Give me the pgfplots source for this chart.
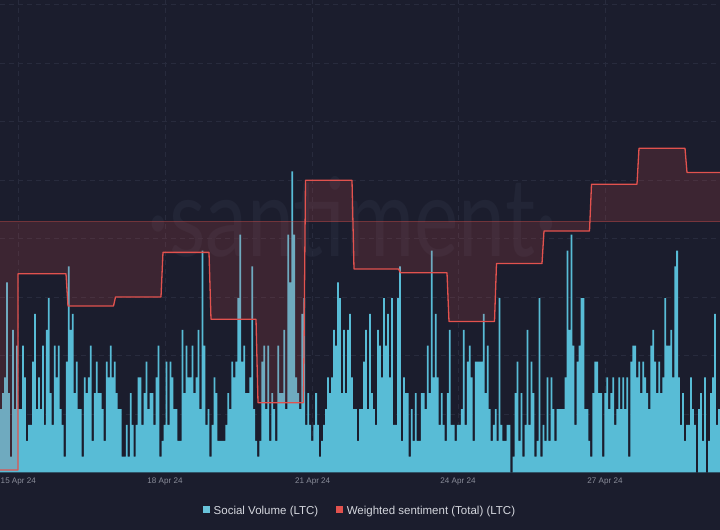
\documentclass[border=0pt]{standalone}
\usepackage{pgfplots}
\usepackage{pgfplotstable}
\pgfplotsset{compat=1.18}
\usepackage{fontspec}
\setmainfont{Liberation Sans}
\newfontfamily\wmfont{Lato}

\definecolor{bg}{HTML}{1B1D2D}
\definecolor{gridc}{HTML}{282B3D}
\definecolor{volc}{HTML}{58BCD6}
\definecolor{sentc}{HTML}{E2524E}
\definecolor{tickc}{HTML}{8A8D9A}
\definecolor{legc}{HTML}{D5D7DE}
\definecolor{wmc}{HTML}{222536}

% hourly social volume (LTC)
\pgfplotstableread[row sep=\\]{
v\\
4\\5\\6\\12\\5\\1\\9\\4\\8\\4\\4\\8\\6\\2\\3\\3\\7\\10\\4\\6\\4\\8\\3\\9\\11\\5\\3\\8\\6\\8\\4\\3\\1\\7\\13\\9\\10\\5\\7\\4\\4\\1\\6\\5\\6\\8\\
2\\5\\7\\5\\5\\4\\2\\7\\6\\8\\6\\7\\5\\4\\4\\1\\1\\3\\1\\5\\3\\1\\3\\6\\6\\3\\5\\7\\4\\5\\5\\3\\6\\8\\1\\2\\3\\7\\3\\7\\6\\4\\4\\2\\2\\
9\\5\\8\\6\\6\\8\\5\\6\\9\\4\\14\\8\\3\\4\\1\\3\\6\\5\\2\\2\\2\\2\\3\\5\\4\\7\\6\\7\\11\\15\\7\\8\\5\\5\\6\\13\\4\\2\\1\\2\\7\\8\\4\\8\\2\\
5\\4\\2\\8\\5\\5\\9\\4\\15\\12\\19\\15\\6\\5\\4\\10\\11\\3\\5\\3\\2\\3\\5\\3\\1\\2\\3\\4\\6\\5\\6\\9\\8\\12\\11\\5\\9\\5\\9\\10\\6\\4\\4\\2\\4\\
4\\7\\9\\4\\10\\5\\4\\3\\9\\8\\6\\11\\8\\10\\6\\11\\3\\3\\11\\13\\2\\6\\5\\5\\1\\4\\2\\5\\2\\2\\5\\5\\4\\8\\5\\14\\6\\10\\6\\3\\5\\3\\2\\5\\9\\
3\\3\\2\\3\\3\\4\\9\\3\\7\\8\\6\\2\\7\\7\\7\\7\\10\\5\\8\\4\\2\\3\\4\\2\\11\\3\\2\\2\\3\\3\\0\\1\\5\\7\\2\\5\\1\\3\\9\\3\\7\\5\\1\\2\\11\\
1\\3\\2\\6\\2\\6\\4\\2\\4\\4\\4\\4\\6\\14\\9\\15\\8\\3\\7\\8\\11\\11\\4\\4\\2\\1\\5\\7\\7\\5\\5\\1\\5\\6\\4\\5\\6\\3\\4\\6\\4\\6\\4\\6\\1\\
7\\8\\8\\6\\7\\5\\7\\6\\5\\4\\8\\9\\7\\5\\7\\5\\6\\11\\8\\8\\9\\6\\13\\14\\6\\3\\5\\2\\3\\3\\6\\4\\3\\0\\4\\5\\2\\6\\0\\2\\5\\6\\10\\3\\4\\
}\volume

\pgfplotsset{base/.style={
    width=720bp, height=472.5bp, scale only axis,
    xmin=-0.5, xmax=360.5,
    at={(0,57.5bp)}, anchor=south west,
}}

\begin{document}
\begin{tikzpicture}
\fill[bg] (0,0) rectangle (720bp,530bp);
\node[anchor=base, text=wmc, font=\wmfont\fontsize{84bp}{84bp}\selectfont, yscale=1.3]
    at (352bp,273bp) {·santiment·};

\begin{axis}[base,
    ymin=0, ymax=29.81,
    axis line style={draw=none},
    major tick length=0,
    xtick={8.68,82.23,156.28,229.14,302.84},
    xticklabels={15 Apr 24,18 Apr 24,21 Apr 24,24 Apr 24,27 Apr 24},
    xticklabel style={font=\fontsize{8.1bp}{9bp}\selectfont, text=tickc, anchor=center, yshift=-9bp},
    ytick={3.688,7.375,11.063,14.751,18.438,22.126,25.814,29.502},
    yticklabels={},
    grid=major,
    major grid style={gridc, dash pattern=on 5bp off 4bp, line width=0.8bp},
]
\addplot[ybar, bar width=0.88, fill=volc, draw=none] table[x expr=\coordindex, y=v] {\volume};
\end{axis}

\begin{axis}[base, ymin=-5.016, ymax=4.434, hide axis]
\addplot[fill=sentc, fill opacity=0.17, draw=none] coordinates {
    (-0.5,-4.966) (8.52,-4.966) (8.52,-1.040)
    (32.59,-1.040) (33.59,-1.686)
    (56.41,-1.686) (57.41,-1.506)
    (80.22,-1.506) (81.22,-0.614)
    (104.29,-0.614) (105.29,-1.952)
    (127.86,-1.952) (128.86,-3.620)
    (151.67,-3.620) (152.67,0.828)
    (175.99,0.828) (176.99,-0.946)
    (199.31,-0.946) (200.31,-1.022)
    (223.62,-1.022) (224.62,-1.996)
    (247.44,-1.996) (248.44,-0.838)
    (271.25,-0.838) (272.25,-0.186)
    (295.07,-0.186) (296.07,0.748)
    (318.88,0.748) (319.88,1.468)
    (342.95,1.468) (343.95,0.984)
    (360.5,0.984)
} \closedcycle;
\addplot[sentc, opacity=0.4, line width=1bp] coordinates {(-0.5,0) (360.5,0)};
\addplot[sentc, line width=1.3bp, line join=round] coordinates {
    (-0.5,-4.966) (8.52,-4.966) (8.52,-1.040)
    (32.59,-1.040) (33.59,-1.686)
    (56.41,-1.686) (57.41,-1.506)
    (80.22,-1.506) (81.22,-0.614)
    (104.29,-0.614) (105.29,-1.952)
    (127.86,-1.952) (128.86,-3.620)
    (151.67,-3.620) (152.67,0.828)
    (175.99,0.828) (176.99,-0.946)
    (199.31,-0.946) (200.31,-1.022)
    (223.62,-1.022) (224.62,-1.996)
    (247.44,-1.996) (248.44,-0.838)
    (271.25,-0.838) (272.25,-0.186)
    (295.07,-0.186) (296.07,0.748)
    (318.88,0.748) (319.88,1.468)
    (342.95,1.468) (343.95,0.984)
    (360.5,0.984)
};
\end{axis}

% legend
\fill[volc!90!white] (202.5bp,16.5bp) rectangle (209.5bp,23.5bp);
\node[anchor=base west, inner sep=0, text=legc, font=\fontsize{11.5bp}{13bp}\selectfont]
    at (213.5bp,16bp) {Social Volume (LTC)};
\fill[sentc] (335.6bp,16.5bp) rectangle (342.6bp,23.5bp);
\node[anchor=base west, inner sep=0, text=legc, font=\fontsize{11.5bp}{13bp}\selectfont]
    at (346.6bp,16bp) {Weighted sentiment (Total) (LTC)};

\pgfresetboundingbox
\useasboundingbox (0,0) rectangle (720bp,530bp);
\end{tikzpicture}
\end{document}
